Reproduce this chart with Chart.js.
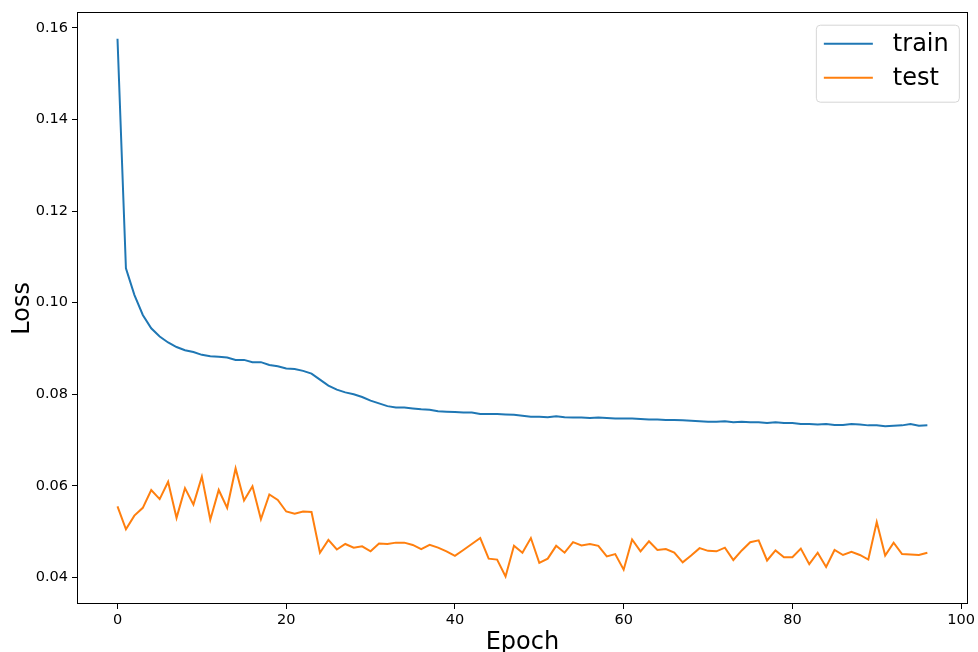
<!DOCTYPE html>
<html>
<head>
<meta charset="utf-8">
<script src="https://cdn.jsdelivr.net/npm/chart.js@4"></script>
<style>
  html, body { margin: 0; padding: 0; background: #fff; }
  #wrap { width: 978px; height: 652px; }
</style>
</head>
<body>
<div id="wrap"><canvas id="lossChart" width="978" height="652"></canvas></div>
<script>
// epochs 0..96
const epochs = Array.from({ length: 97 }, (_, i) => i);

const trainLoss = [
  0.1576, 0.1075, 0.1017, 0.0973, 0.0944, 0.0926, 0.0913, 0.0903, 0.0896, 0.0892,
  0.0886, 0.0883, 0.0882, 0.0880, 0.0875, 0.0875, 0.0870, 0.0870, 0.0864, 0.0861,
  0.0856, 0.0855, 0.0851, 0.0845, 0.0832, 0.0819, 0.0810, 0.0804, 0.0800, 0.0794,
  0.0786, 0.0780, 0.0774, 0.0771, 0.0771, 0.0769, 0.0767, 0.0766, 0.0763, 0.0762,
  0.0761, 0.0760, 0.0760, 0.0757, 0.0757, 0.0757, 0.0756, 0.0755, 0.0753, 0.0751,
  0.0751, 0.0750, 0.0752, 0.0750, 0.0749, 0.0749, 0.0748, 0.0749, 0.0748, 0.0747,
  0.0747, 0.0747, 0.0746, 0.0745, 0.0745, 0.0744, 0.0744, 0.0743, 0.0742, 0.0741,
  0.0740, 0.0740, 0.0741, 0.0739, 0.0740, 0.0739, 0.0739, 0.0737, 0.0739, 0.0737,
  0.0737, 0.0735, 0.0735, 0.0734, 0.0735, 0.0733, 0.0733, 0.0735, 0.0734, 0.0732,
  0.0732, 0.0730, 0.0731, 0.0732, 0.0735, 0.0731, 0.0732
];

const testLoss = [
  0.0555, 0.0505, 0.0535, 0.0552, 0.0591, 0.0571, 0.0609, 0.0530, 0.0595, 0.0559,
  0.0620, 0.0526, 0.0591, 0.0552, 0.0638, 0.0568, 0.0599, 0.0527, 0.0581, 0.0569,
  0.0544, 0.0539, 0.0544, 0.0543, 0.0454, 0.0482, 0.0461, 0.0473, 0.0465, 0.0468,
  0.0457, 0.0474, 0.0473, 0.0476, 0.0476, 0.0471, 0.0462, 0.0471, 0.0465, 0.0457,
  0.0447, 0.0460, 0.0473, 0.0486, 0.0441, 0.0439, 0.0402, 0.0469, 0.0454, 0.0486,
  0.0432, 0.0441, 0.0469, 0.0454, 0.0477, 0.0470, 0.0473, 0.0469, 0.0446, 0.0451,
  0.0417, 0.0483, 0.0457, 0.0479, 0.0460, 0.0462, 0.0454, 0.0433, 0.0448, 0.0464,
  0.0458, 0.0457, 0.0465, 0.0438, 0.0459, 0.0477, 0.0481, 0.0437, 0.0459, 0.0444,
  0.0444, 0.0463, 0.0429, 0.0454, 0.0423, 0.0460, 0.0449, 0.0456, 0.0449, 0.0439,
  0.0521, 0.0448, 0.0476, 0.0451, 0.0450, 0.0449, 0.0454
];

const xTicks = [0, 20, 40, 60, 80, 100];
const yTicks = [0.04, 0.06, 0.08, 0.10, 0.12, 0.14, 0.16];

const FONT = '"DejaVu Sans", "Liberation Sans", sans-serif';

// frame around plot area + legend box in upper right (matplotlib look)
const framePlugin = {
  id: 'frameAndLegend',
  afterDraw(chart) {
    const { ctx, chartArea: a } = chart;
    ctx.save();
    ctx.strokeStyle = '#000';
    ctx.lineWidth = 1;
    ctx.strokeRect(Math.round(a.left) + 0.5, Math.round(a.top) - 0.5,
                   Math.round(a.right - a.left) - 1, Math.round(a.bottom - a.top));

    // legend
    const boxW = 143, boxH = 77;
    const bx = a.right - 9 - boxW, by = a.top + 12;
    ctx.beginPath();
    ctx.roundRect(bx + 0.5, by + 0.5, boxW, boxH, 4);
    ctx.fillStyle = 'rgba(255,255,255,0.8)';
    ctx.fill();
    ctx.strokeStyle = '#d6d6d6';
    ctx.stroke();

    ctx.font = '24px ' + FONT;
    ctx.textBaseline = 'middle';
    ctx.textAlign = 'left';
    chart.data.datasets.forEach((ds, i) => {
      const ly = by + 19 + i * 34;
      ctx.strokeStyle = ds.borderColor;
      ctx.lineWidth = 2;
      ctx.beginPath();
      ctx.moveTo(bx + 8, ly);
      ctx.lineTo(bx + 57, ly);
      ctx.stroke();
      ctx.fillStyle = '#000';
      ctx.fillText(ds.label, bx + 77, ly + 1);
    });
    ctx.restore();
  }
};

const ctx = document.getElementById('lossChart').getContext('2d');
new Chart(ctx, {
  type: 'line',
  data: {
    datasets: [
      {
        label: 'train',
        data: trainLoss.map((v, i) => ({ x: epochs[i], y: v })),
        borderColor: '#1f77b4',
        borderWidth: 2,
        pointRadius: 0,
        tension: 0,
        fill: false
      },
      {
        label: 'test',
        data: testLoss.map((v, i) => ({ x: epochs[i], y: v })),
        borderColor: '#ff7f0e',
        borderWidth: 2,
        pointRadius: 0,
        tension: 0,
        fill: false
      }
    ]
  },
  options: {
    responsive: false,
    animation: false,
    layout: { padding: { top: 12, right: 8, left: 0, bottom: 0 } },
    plugins: {
      legend: { display: false },
      tooltip: { enabled: false }
    },
    scales: {
      x: {
        type: 'linear',
        min: -4.8,
        max: 100.8,
        afterBuildTicks: (scale) => { scale.ticks = xTicks.map(v => ({ value: v })); },
        afterFit: (scale) => { scale.height = 48; },
        grid: { display: true, drawOnChartArea: false, tickLength: 5, color: '#000', lineWidth: 1 },
        border: { display: false },
        ticks: { color: '#000', font: { family: FONT, size: 14.5 }, padding: 3, maxRotation: 0 },
        title: { display: true, text: 'Epoch', color: '#000', font: { family: FONT, size: 24 }, padding: { top: 0, bottom: -5 } }
      },
      y: {
        type: 'linear',
        min: 0.0342,
        max: 0.1633,
        afterBuildTicks: (scale) => { scale.ticks = yTicks.map(v => ({ value: v })); },
        afterFit: (scale) => { scale.width = 77; },
        grid: { display: true, drawOnChartArea: false, tickLength: 5, color: '#000', lineWidth: 1 },
        border: { display: false },
        ticks: {
          color: '#000',
          font: { family: FONT, size: 14.5 },
          padding: 4,
          callback: (v) => v.toFixed(2)
        },
        title: { display: true, text: 'Loss', color: '#000', font: { family: FONT, size: 24 }, padding: { top: 8, bottom: 0 } }
      }
    }
  },
  plugins: [framePlugin]
});
</script>
</body>
</html>
